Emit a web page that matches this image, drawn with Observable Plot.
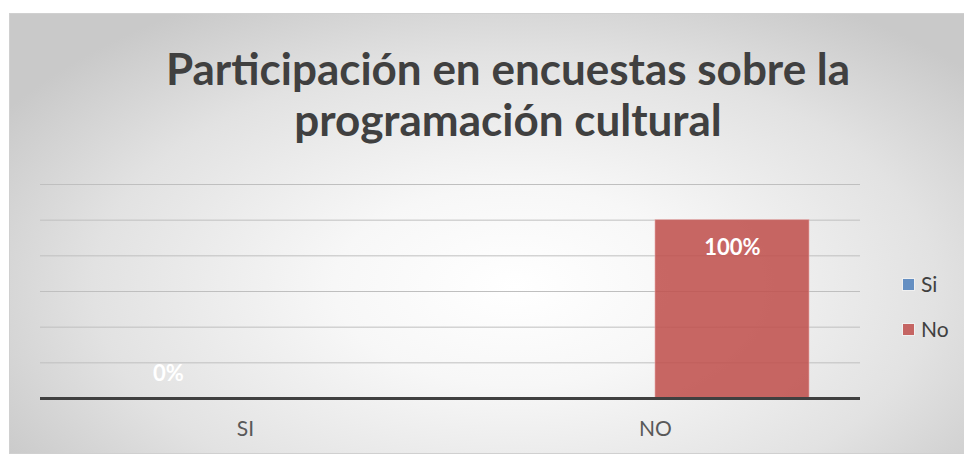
<!DOCTYPE html>
<html>
<head>
<meta charset="utf-8">
<script src="https://cdn.jsdelivr.net/npm/d3@7"></script>
<script src="https://cdn.jsdelivr.net/npm/@observablehq/plot@0.6"></script>
<style>
  html, body { margin: 0; padding: 0; background: #fff; }
  #wrap { position: relative; width: 964px; height: 454px; overflow: hidden; background: #fff; font-family: Lato, "Open Sans", sans-serif; }
  #box { position: absolute; left: 9px; top: 13px; width: 970px; height: 439px;
    border: 1px solid #d0d0d0;
    background: radial-gradient(ellipse 62% 75% at 52% 62%, #ffffff 0%, #f7f7f7 30%, #e2e2e2 70%, #c9c9c9 100%); }
  #title { position: absolute; left: 108px; width: 800px; top: 43px; text-align: center;
    font-weight: 700; font-size: 44px; line-height: 51px; color: #404040; }
  #chart { position: absolute; left: 0; top: 0; }
  #legend { position: absolute; left: 902px; top: 273px; font-size: 21px; color: #404040; }
  .item { position: relative; height: 45px; }
  .sw { position: absolute; left: 1px; top: 6px; width: 11px; height: 11px; }
  .lb { position: absolute; left: 19px; top: -1px; line-height: 24px; }
</style>
</head>
<body>
<div id="wrap">
  <div id="box"></div>
  <div id="title">Participación en encuestas sobre la<br>programación cultural</div>
  <div id="chart"></div>
  <div id="legend"></div>
</div>
<script>
const categories = ["SI", "NO"];
const series = ["Si", "No"];
const valuesSi = [0, null];
const valuesNo = [null, 1];
const seriesColors = ["#4f81bd", "#c0504d"];
const gridTicks = [0.2, 0.4, 0.6, 0.8, 1.0, 1.2];

const rows = [];
categories.forEach((c, i) => {
  rows.push({category: c, series: "Si", value: valuesSi[i]});
  rows.push({category: c, series: "No", value: valuesNo[i]});
});
const shown = rows.filter(d => d.value != null);

const fmt = d3.format(".0%");

const chart = Plot.plot({
  width: 964,
  height: 454,
  marginLeft: 40,
  marginRight: 104,
  marginTop: 184,
  marginBottom: 56,
  style: {background: "transparent", fontFamily: "Lato, 'Open Sans', sans-serif", fontSize: "16px"},
  fx: {domain: categories, padding: 0, label: null, axis: null},
  x: {domain: series, paddingInner: 0, paddingOuter: 0.33, axis: null},
  y: {domain: [0, 1.2], axis: null},
  color: {domain: series, range: seriesColors},
  marks: [
    Plot.gridY(gridTicks, {stroke: "#bfbfbf", strokeOpacity: 1, strokeWidth: 1}),
    Plot.barY(shown.filter(d => d.value > 0), {fx: "category", x: "series", y: "value", fill: "series", fillOpacity: 0.87, stroke: "#e8a9a8", strokeWidth: 1, strokeOpacity: 0.6}),
    Plot.ruleY([0], {stroke: "#404040", strokeWidth: 3}),
    Plot.text(shown.filter(d => d.value > 0), {fx: "category", x: "series", y: "value", text: d => fmt(d.value), dy: 28, fill: "white", fontWeight: "bold", fontSize: 22}),
    Plot.text(shown.filter(d => d.value === 0), {fx: "category", x: "series", y: "value", text: d => fmt(d.value), dy: -25, fill: "white", fontWeight: "bold", fontSize: 22}),
    Plot.text(categories, {fx: d => d, text: d => d, frameAnchor: "bottom", lineAnchor: "middle", dy: 31, fontSize: 21, fill: "#595959"})
  ]
});
document.getElementById("chart").appendChild(chart);

const legend = document.getElementById("legend");
series.forEach((s, i) => {
  const it = document.createElement("div");
  it.className = "item";
  const sw = document.createElement("div");
  sw.className = "sw";
  sw.style.background = seriesColors[i];
  sw.style.opacity = 0.85;
  sw.style.boxShadow = "0 0 0 1px rgba(255,255,255,0.55)";
  const lb = document.createElement("div");
  lb.className = "lb";
  lb.textContent = s;
  it.appendChild(sw); it.appendChild(lb);
  legend.appendChild(it);
});
</script>
</body>
</html>
